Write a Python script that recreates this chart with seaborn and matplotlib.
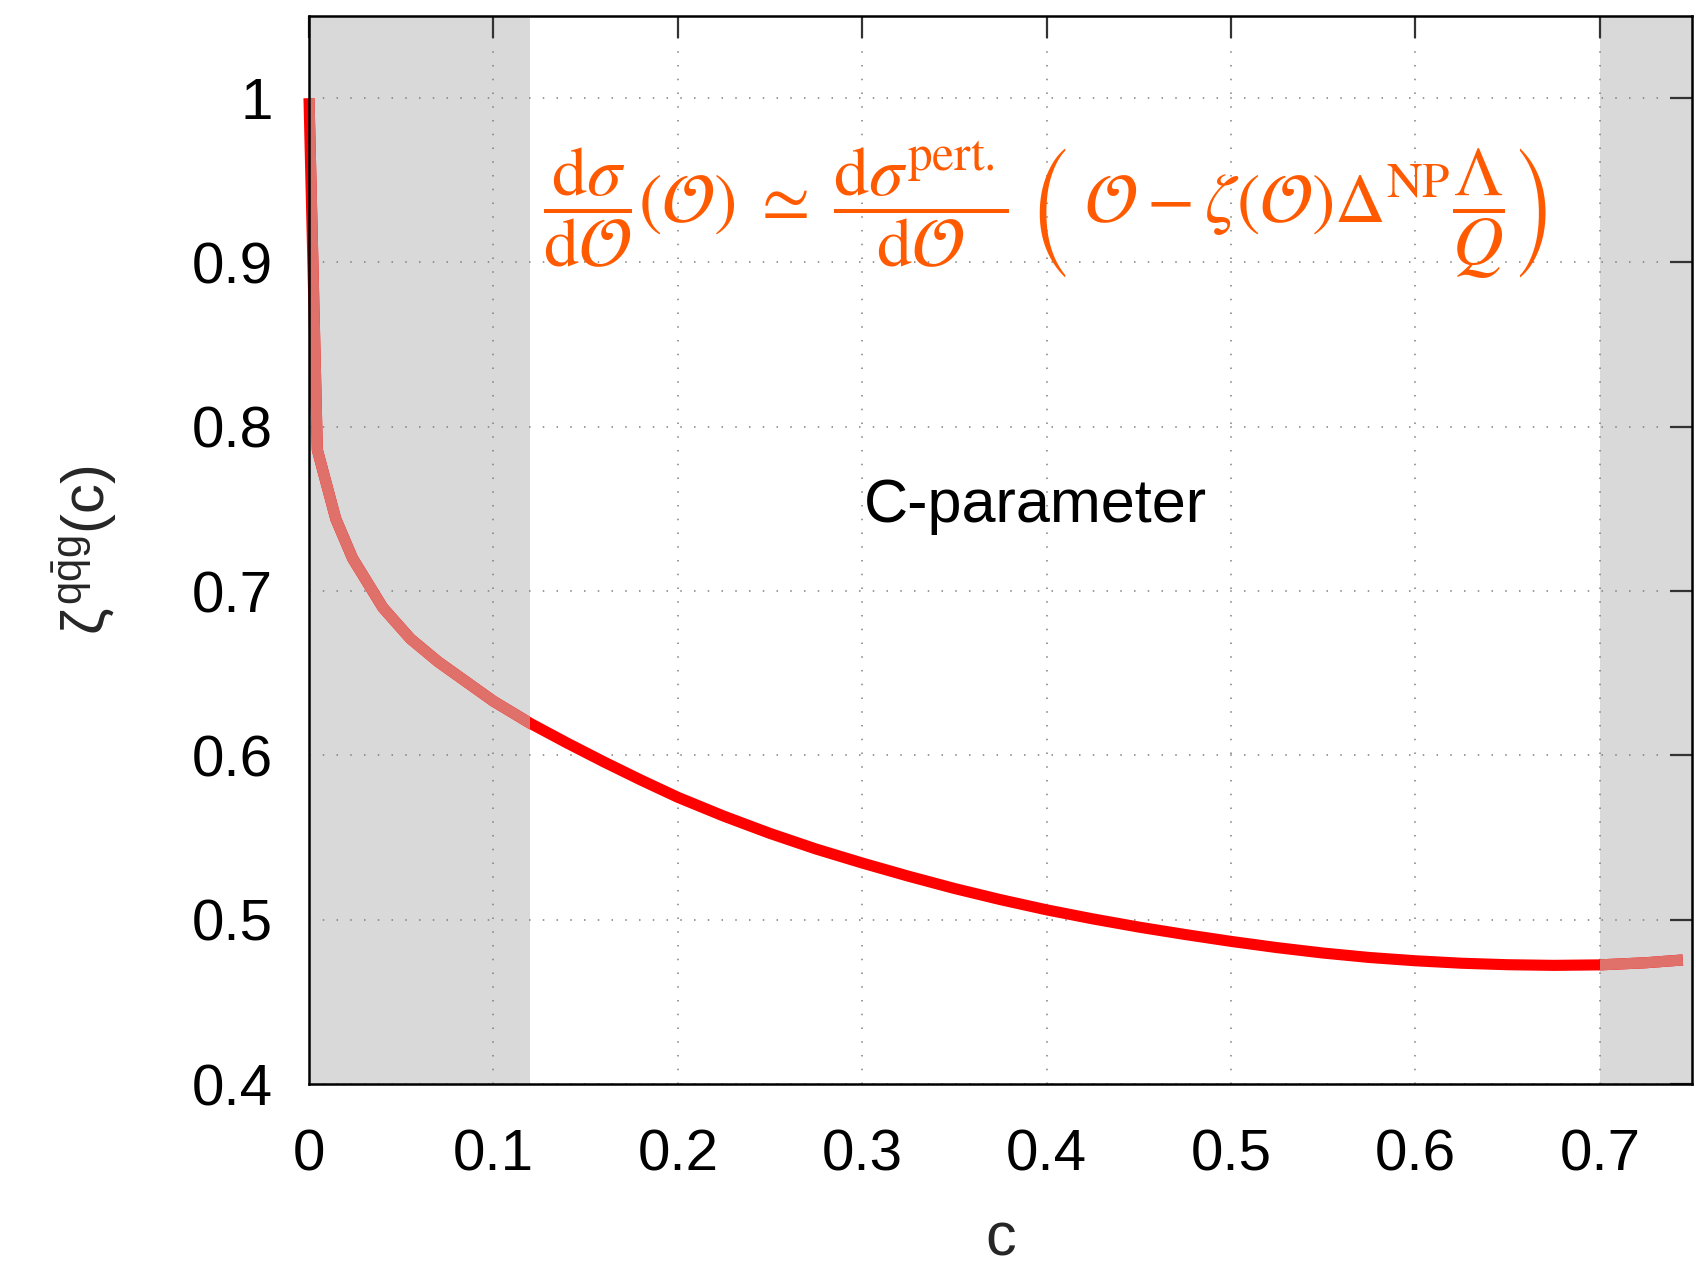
import numpy as np
import pandas as pd
import matplotlib
matplotlib.use("Agg")
import matplotlib.pyplot as plt
import seaborn as sns

# ---- data ----
c_values = [0.0, 0.0045, 0.0145, 0.0236, 0.040, 0.055, 0.070, 0.085, 0.100,
            0.120, 0.140, 0.160, 0.180, 0.200, 0.225, 0.250, 0.275, 0.300,
            0.325, 0.350, 0.375, 0.400, 0.425, 0.450, 0.475, 0.500, 0.525,
            0.550, 0.575, 0.600, 0.625, 0.650, 0.675, 0.700, 0.725, 0.745]
zeta_values = [1.000, 0.786, 0.744, 0.720, 0.690, 0.671, 0.657, 0.645, 0.633,
               0.6195, 0.6075, 0.5960, 0.5850, 0.5745, 0.5630, 0.5525, 0.5430, 0.5345,
               0.5265, 0.5190, 0.5122, 0.5060, 0.5005, 0.4955, 0.4910, 0.4868, 0.4830,
               0.4797, 0.4770, 0.4750, 0.4735, 0.4726, 0.4722, 0.4725, 0.4738, 0.4755]
shade_left = (0.0, 0.12)
shade_right = (0.70, 0.75)
x_ticks = [0.0, 0.1, 0.2, 0.3, 0.4, 0.5, 0.6, 0.7]
x_ticklabels = ["0", "0.1", "0.2", "0.3", "0.4", "0.5", "0.6", "0.7"]
y_ticks = [0.4, 0.5, 0.6, 0.7, 0.8, 0.9, 1.0]
y_ticklabels = ["0.4", "0.5", "0.6", "0.7", "0.8", "0.9", "1"]

df = pd.DataFrame({"c": c_values, "zeta": zeta_values})

sns.set_style("white")
plt.rcParams["font.family"] = ["Liberation Sans", "DejaVu Sans"]
plt.rcParams["mathtext.fontset"] = "custom"
plt.rcParams["mathtext.rm"] = "Liberation Sans"
plt.rcParams["mathtext.it"] = "Liberation Sans"
plt.rcParams["mathtext.bf"] = "Liberation Sans:bold"

W, H = 1696, 1266
fig = plt.figure(figsize=(W / 100, H / 100), dpi=100)
L, R, T, B = 309, 1692, 16, 1084
ax = fig.add_axes([L / W, 1 - B / H, (R - L) / W, (B - T) / H])

ax.set_xlim(0, 0.75)
ax.set_ylim(0.4, 1.05)

span1 = ax.axvspan(*shade_left, color="#d9d9d9", lw=0, zorder=0)
span2 = ax.axvspan(*shade_right, color="#d9d9d9", lw=0, zorder=0)

ax.set_axisbelow(True)
ax.grid(True, linestyle=(0, (1, 8)), color="#808080", lw=1.1)

sns.lineplot(data=df, x="c", y="zeta", ax=ax, color="#ff0000", lw=8,
             estimator=None, sort=False, clip_on=False, zorder=2,
             solid_capstyle="butt", solid_joinstyle="round")
for sp in (span1, span2):
    sns.lineplot(data=df, x="c", y="zeta", ax=ax, color="#e0706a", lw=8,
                 estimator=None, sort=False, zorder=2.1,
                 solid_capstyle="butt", solid_joinstyle="round")
    ax.lines[-1].set_clip_path(sp)

ax.set_xticks(x_ticks)
ax.set_xticklabels(x_ticklabels)
ax.set_yticks(y_ticks)
ax.set_yticklabels(y_ticklabels)
ax.tick_params(axis="both", which="major", direction="in", length=16, width=1.6,
               color="#333333", labelsize=42, top=True, right=True,
               labelcolor="black")
ax.tick_params(axis="y", pad=26)
ax.tick_params(axis="x", pad=32)

for s in ax.spines.values():
    s.set_visible(True)
    s.set_color("black")
    s.set_linewidth(1.8)
    s.set_zorder(3)

ax.set_xlabel("c", fontsize=44, labelpad=21)
ax.set_ylabel(r"$\zeta^{q\bar{q}g}(c)$", fontsize=43, labelpad=52)

ax.text(0.525, 0.526, "C-parameter", transform=ax.transAxes, ha="center",
        va="baseline", fontsize=44, color="black")

formula = (r"$\dfrac{\mathrm{d}\sigma}{\mathrm{d}\mathcal{O}}(\mathcal{O})\;\simeq\;"
           r"\dfrac{\mathrm{d}\sigma^{\mathrm{pert.}}}{\mathrm{d}\mathcal{O}}\;"
           r"\left(\;\mathcal{O} - \zeta(\mathcal{O})\Delta^{\mathrm{NP}}"
           r"\dfrac{\Lambda}{Q}\right)$")
ax.text(0.532, 0.818, formula, transform=ax.transAxes, ha="center", va="center",
        fontsize=50.5, color="#ff5a00", math_fontfamily="stix")

fig.savefig("out.png", dpi=100)
